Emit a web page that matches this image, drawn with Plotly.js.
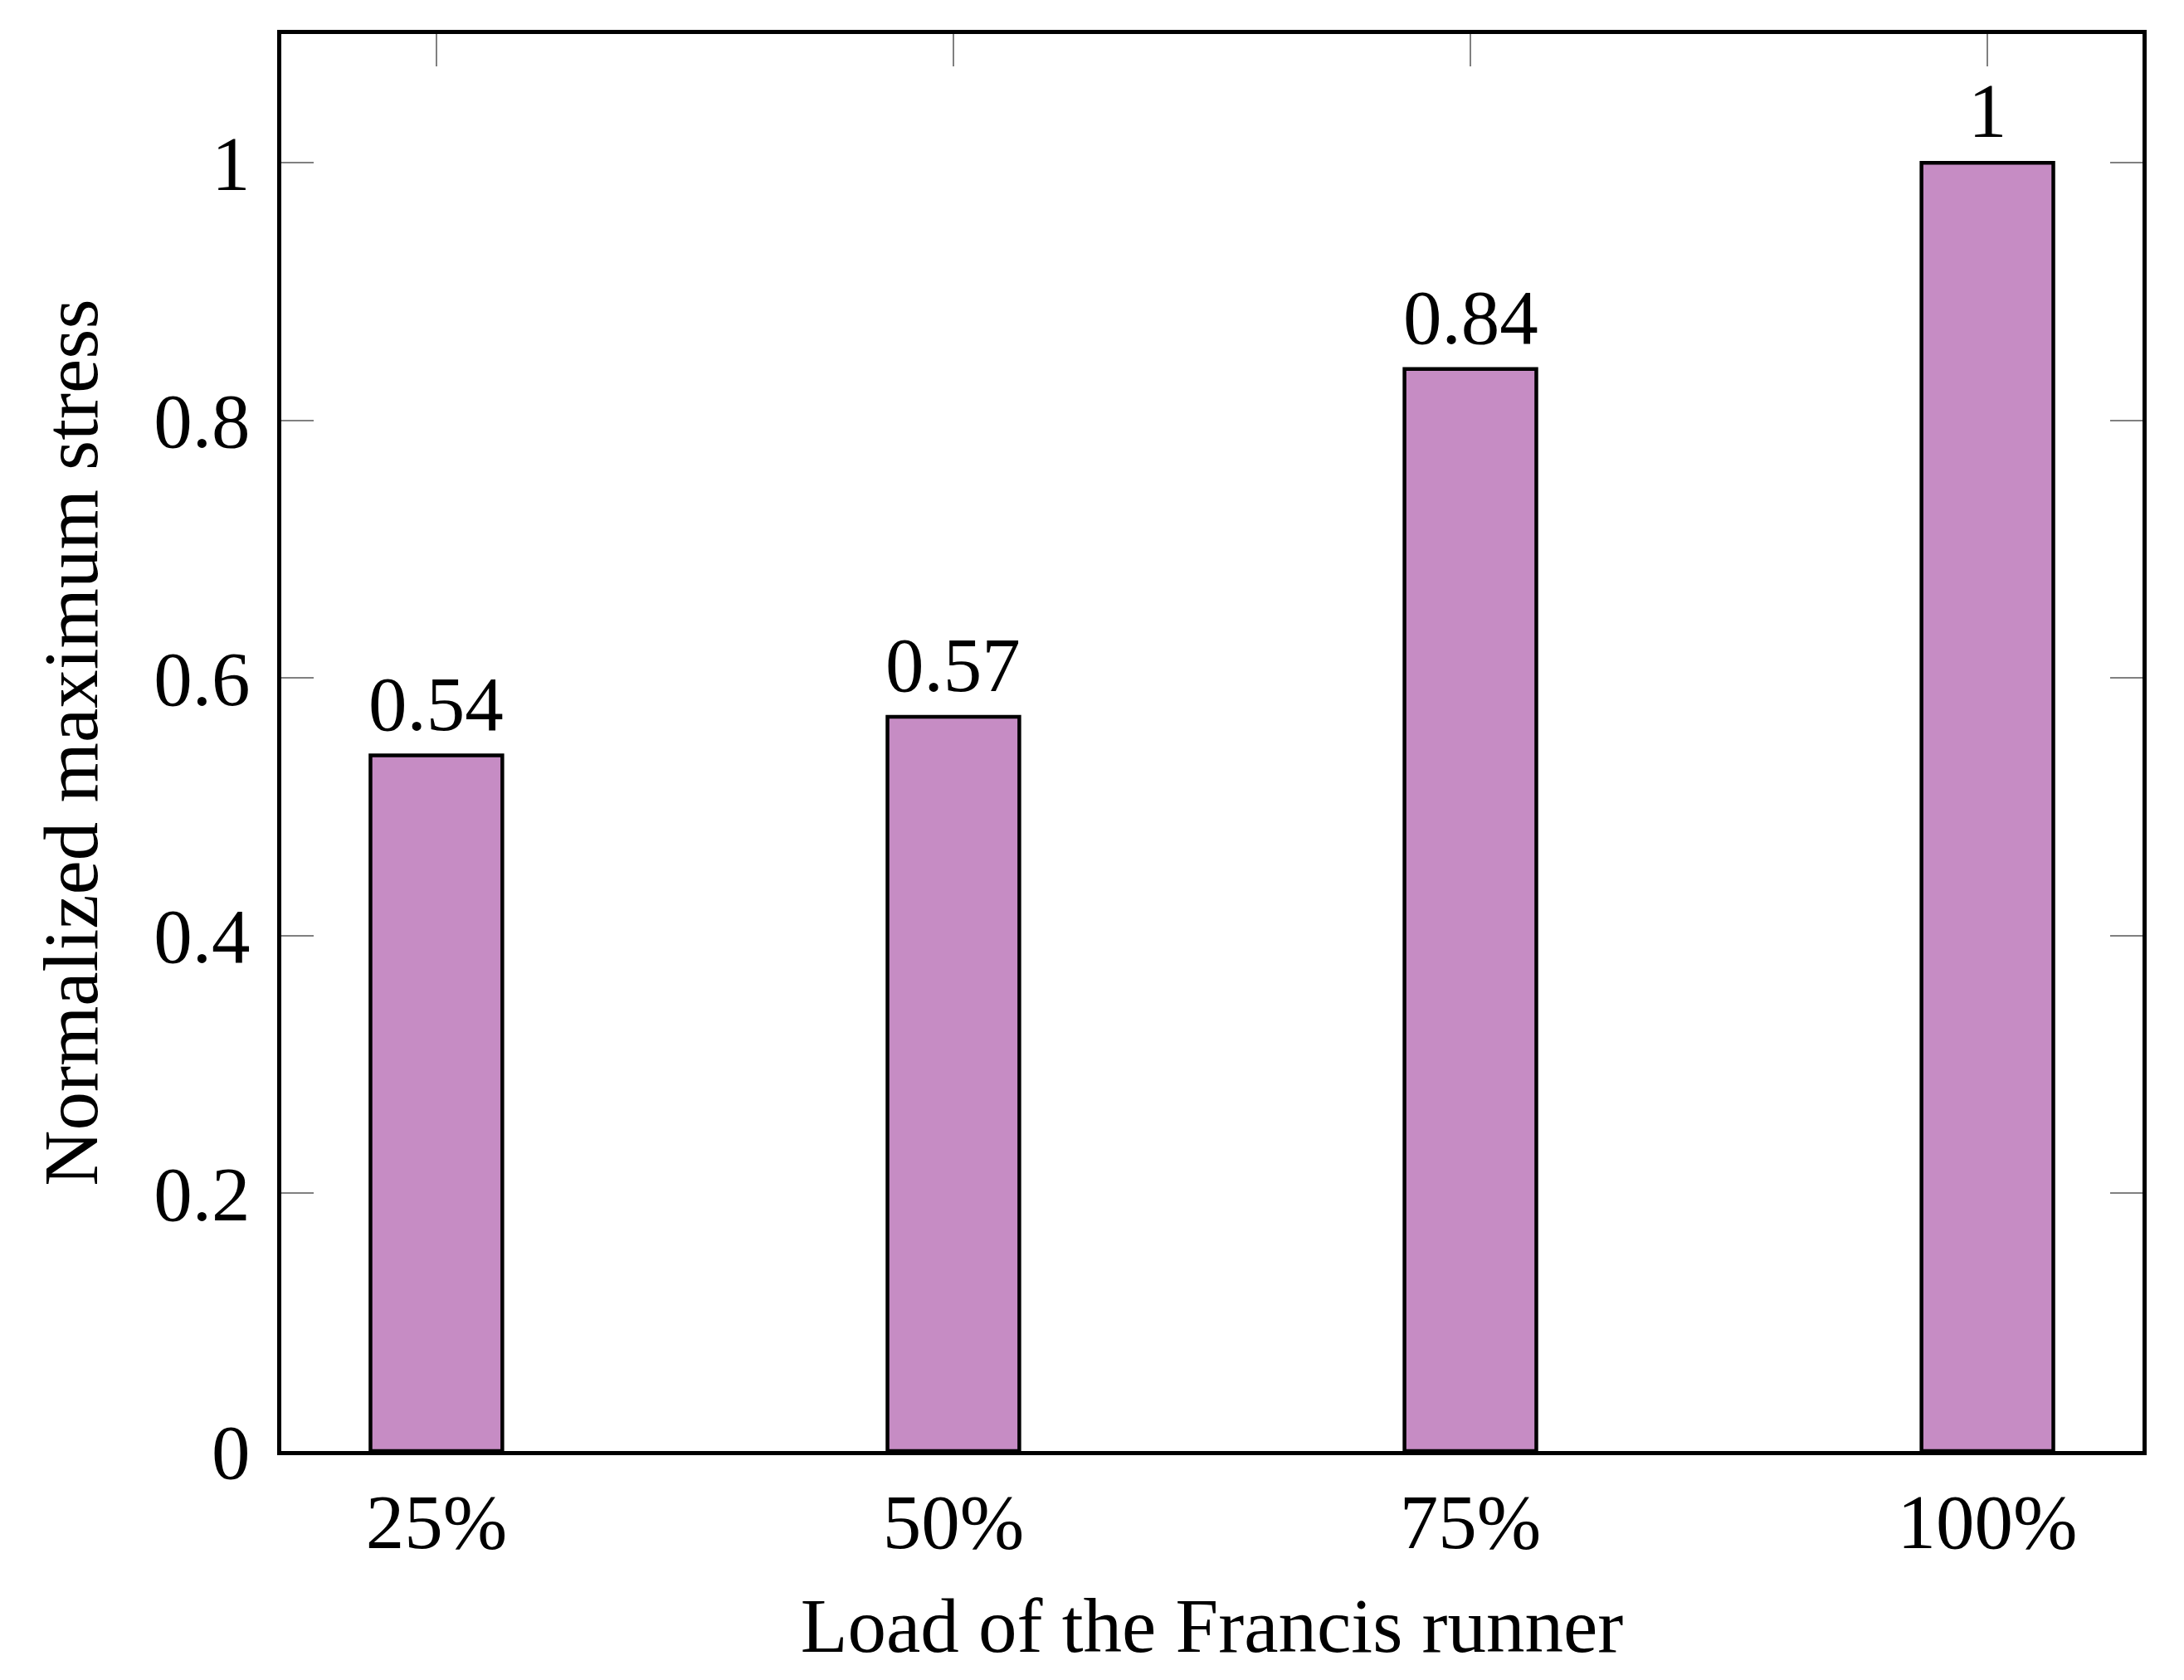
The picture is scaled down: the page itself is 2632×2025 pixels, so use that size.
<!DOCTYPE html>
<html>
<head>
<meta charset="utf-8">
<script src="https://cdn.plot.ly/plotly-3.0.1.min.js"></script>
<style>
  html, body { margin: 0; padding: 0; background: #fff; }
  #chart { width: 2632px; height: 2025px; }
</style>
</head>
<body>
<div id="chart"></div>
<script>
// load levels and normalized max stress
const loads = ["25%", "50%", "75%", "100%"];
const stress = [0.54, 0.57, 0.84, 1];
const stressLabels = ["0.54", "0.57", "0.84", "1"];
const yTicks = [0, 0.2, 0.4, 0.6, 0.8, 1];
const yTickText = ["0", "0.2", "0.4", "0.6", "0.8", "1"];

const serif = "'Liberation Serif', 'Times New Roman', serif";
const fontSize = 93;

const trace = {
  type: "bar",
  x: loads,
  y: stress,
  width: 0.255,
  marker: { color: "#C68CC4", line: { color: "#000", width: 4.5 } },
  hoverinfo: "none"
};

// value labels above the bars
const labels = loads.map((l, i) => ({
  x: l,
  y: stress[i],
  xref: "x",
  yref: "y",
  text: stressLabels[i],
  showarrow: false,
  yanchor: "bottom",
  yshift: 9,
  font: { family: serif, size: fontSize, color: "#000" }
}));

const layout = {
  width: 2632,
  height: 2025,
  paper_bgcolor: "#fff",
  plot_bgcolor: "#fff",
  margin: { l: 339, r: 50, t: 41, b: 276 },
  showlegend: false,
  font: { family: serif, size: fontSize, color: "#000" },
  annotations: labels,
  xaxis: {
    type: "category",
    range: [-0.3, 3.3],
    showline: true,
    linecolor: "#000",
    linewidth: 5,
    mirror: "all",
    ticks: "inside",
    ticklen: 39,
    tickwidth: 2,
    tickcolor: "#808080",
    showgrid: false,
    zeroline: false,
    layer: "below traces",
    tickfont: { family: serif, size: fontSize, color: "#000" },
    title: { text: "Load of the Francis runner", font: { family: serif, size: fontSize, color: "#000" }, standoff: 43 }
  },
  yaxis: {
    range: [0, 1.1],
    tickvals: yTicks,
    ticktext: yTickText,
    showline: true,
    linecolor: "#000",
    linewidth: 5,
    mirror: "all",
    ticks: "inside",
    ticklen: 39,
    tickwidth: 2,
    tickcolor: "#808080",
    showgrid: false,
    zeroline: false,
    layer: "below traces",
    ticklabelstandoff: 14,
    tickfont: { family: serif, size: fontSize, color: "#000" },
    title: { text: "Normalized maximum stress", font: { family: serif, size: fontSize, color: "#000" }, standoff: 38 }
  }
};

Plotly.newPlot("chart", [trace], layout, { displayModeBar: false, staticPlot: true });
</script>
</body>
</html>
